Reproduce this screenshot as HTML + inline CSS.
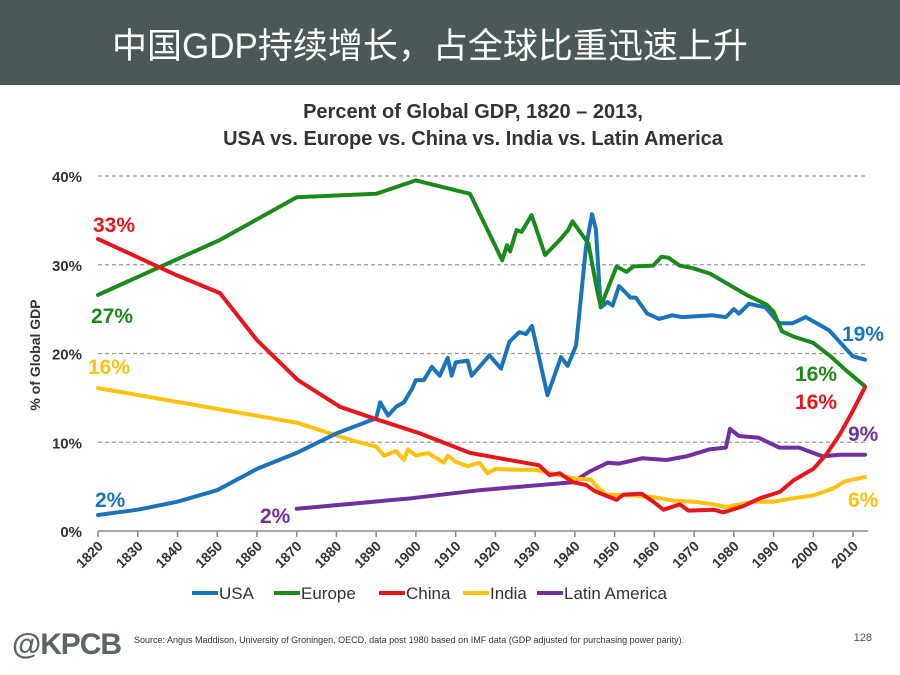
<!DOCTYPE html>
<html><head><meta charset="utf-8"><style>
body{margin:0;width:900px;height:675px;background:#fff;overflow:hidden;position:relative;font-family:"Liberation Sans","Noto Sans CJK SC",sans-serif}
#hdr{position:absolute;left:0;top:0;width:900px;height:85px;background:#4b5857}
#hdr div{position:absolute;left:112px;top:18px;color:#fff;font-size:35px;font-family:"Liberation Sans","Noto Sans CJK SC",sans-serif;white-space:nowrap}
svg{position:absolute;left:0;top:0}
</style></head><body>
<div id="hdr"><div>中国GDP持续增长，占全球比重迅速上升</div></div>
<svg id="c" width="900" height="675"></svg>
<script>
const usaYears=[1820,1830,1840,1850,1860,1870,1880,1890,1891,1893,1895,1897,1899,1900,1902,1904,1906,1908,1909,1910,1913,1914,1916,1918.5,1921.4,1923.5,1926,1927.7,1929.2,1933.1,1936.5,1938.2,1940.3,1942.8,1944.3,1945.3,1946.5,1948.2,1949.5,1951.1,1954,1955.3,1958.2,1961.2,1964.5,1967,1974.6,1978,1980,1981.3,1983.8,1988,1991.4,1994.7,1998.1,2004,2009.9,2013];
const usaVals=[1.8,2.4,3.3,4.6,7,8.8,11,12.7,14.5,13,14,14.5,16,17,17,18.5,17.5,19.5,17.5,19,19.2,17.5,18.5,19.8,18.3,21.3,22.4,22.2,23.1,15.3,19.6,18.6,20.9,32,35.7,34,25.2,25.8,25.4,27.6,26.3,26.3,24.5,23.9,24.3,24.1,24.3,24.1,25,24.5,25.6,25.2,23.4,23.4,24.1,22.6,19.7,19.3];
const eurYears=[1820,1850.7,1870,1890,1900,1913.6,1921.7,1922.9,1923.7,1925.3,1926.6,1929.1,1932.5,1936.2,1938.3,1939.4,1941.3,1943.4,1945.4,1946.5,1950.5,1953,1954.7,1959.7,1961.8,1963.5,1966.4,1969.8,1974,1979,1983.2,1988.3,1990,1992.1,1995,2000,2004.3,2008.5,2013];
const eurVals=[26.6,32.8,37.6,38,39.5,38,30.5,32.2,31.5,33.9,33.7,35.6,31.1,32.8,33.9,34.9,33.7,32.4,27.6,25.3,29.8,29.2,29.8,29.9,30.9,30.8,29.9,29.6,29,27.7,26.6,25.5,24.7,22.5,21.9,21.2,19.7,18,16.3];
const chnYears=[1820,1839.9,1850.7,1860,1870.3,1880.9,1889.3,1901,1913.6,1921,1931,1933.6,1936.2,1939.5,1942.8,1945,1950.5,1952.2,1956.8,1959.7,1962.3,1966.4,1968.6,1974.9,1977.4,1982.4,1986.6,1991.6,1995,2000,2003.4,2006.7,2010,2013];
const chnVals=[32.9,28.8,26.8,21.5,17,14,12.7,11,8.8,8.2,7.4,6.3,6.5,5.5,5.2,4.5,3.5,4.1,4.2,3.3,2.4,3.0,2.3,2.4,2.1,2.8,3.7,4.4,5.7,7.0,8.7,10.9,13.6,16.2];
const indYears=[1820,1870,1884,1890,1892,1895,1897,1898,1900,1903,1907,1908,1910,1913,1916,1918,1920,1925,1930,1935,1940,1944,1946,1948,1955,1960,1965,1970,1975,1978,1980,1985,1990,1995,2000,2005,2008,2013];
const indVals=[16.1,12.2,10.2,9.5,8.5,9.0,8.0,9.2,8.5,8.8,7.7,8.5,7.8,7.3,7.7,6.5,7.0,6.9,6.9,6.4,5.9,5.8,4.8,4.1,4.0,3.8,3.4,3.3,3.0,2.7,2.9,3.3,3.3,3.7,4.0,4.8,5.6,6.1];
const latYears=[1870,1899,1916,1939.5,1943.7,1948.3,1951.1,1957,1963,1968,1973.8,1978,1979,1981.3,1986.3,1991.4,1996.4,2002.3,2006.5,2013];
const latVals=[2.5,3.7,4.6,5.5,6.7,7.7,7.6,8.2,8.0,8.4,9.2,9.4,11.5,10.7,10.5,9.4,9.4,8.4,8.6,8.6];
const yTicks=[0,10,20,30,40];
const xTicks=[1820,1830,1840,1850,1860,1870,1880,1890,1900,1910,1920,1930,1940,1950,1960,1970,1980,1990,2000,2010];

const NS='http://www.w3.org/2000/svg';
const svg=document.getElementById('c');
const X=y=>98+(y-1820)*3.974;
const Y=v=>531-v*8.875;
function mk(tag,attrs,parent){const e=document.createElementNS(NS,tag);for(const k in attrs)e.setAttribute(k,attrs[k]);(parent||svg).appendChild(e);return e;}
function txt(s,x,y,size,color,anchor,extra){const t=mk('text',Object.assign({x:x,y:y,'font-size':size,fill:color,'text-anchor':anchor||'start','font-family':'Liberation Sans, sans-serif','font-weight':'bold'},extra||{}));t.textContent=s;return t;}

let t=txt('Percent of Global GDP, 1820 – 2013,',473,118,20,'#333','middle');

t=txt('USA vs. Europe vs. China vs. India vs. Latin America',473,145,20,'#333','middle');


yTicks.forEach(v=>{
  if(v>0){const g=mk('line',{x1:98,x2:868,y1:Y(v),y2:Y(v),stroke:'#999','stroke-width':1.2,'stroke-dasharray':'4,3'});
  }
  const l=txt(v+'%',82,Y(v)+6,15,'#333','end');
  
});
const ax=mk('line',{x1:98,x2:868,y1:531,y2:531,stroke:'#888','stroke-width':1.5});

xTicks.forEach(yr=>{
  const tk=mk('line',{x1:X(yr),x2:X(yr),y1:531,y2:537,stroke:'#888','stroke-width':1.5});
  
  const l=txt(String(yr),X(yr)+6,547,14,'#333','end',{transform:'rotate(-45 '+(X(yr)+6)+' 547)'});
  
});
const yl=txt('% of Global GDP',40,355,14,'#333','middle',{transform:'rotate(-90 40 355)'});


function series(xs,vs,color,name){
  const d=xs.map((x,i)=>(i?'L':'M')+X(x).toFixed(1)+','+Y(vs[i]).toFixed(1)).join(' ');
  const p=mk('path',{d:d,fill:'none',stroke:color,'stroke-width':4,'stroke-linejoin':'round','stroke-linecap':'round'});
  
}
const C={usa:'#1a74bc',eur:'#1a8a1a',chn:'#e8161c',ind:'#fdc10e',lat:'#7030a0'};
series(latYears,latVals,C.lat,'latin-america-line');
series(indYears,indVals,C.ind,'india-line');
series(usaYears,usaVals,C.usa,'usa-line');
series(eurYears,eurVals,C.eur,'europe-line');
series(chnYears,chnVals,C.chn,'china-line');

[['33%',93,232,C.chn],['27%',91,323,C.eur],['16%',88,374,C.ind],['2%',95,507,C.usa],['2%',260,523,C.lat],
 ['19%',842,341,C.usa],['16%',795,381,C.eur],['16%',795,409,C.chn],['9%',848,441,C.lat],['6%',848,507,C.ind]].forEach(a=>{
  const l=txt(a[0],a[1],a[2],21,a[3],'start');
  
});

[['USA',C.usa,192],['Europe',C.eur,274],['China',C.chn,379],['India',C.ind,463],['Latin America',C.lat,537]].forEach(a=>{
  const g=mk('g',{});
  
  mk('line',{x1:a[2],x2:a[2]+26,y1:593,y2:593,stroke:a[1],'stroke-width':4},g);
  const l=txt(a[0],a[2]+27,599,17,'#333','start',{'font-weight':'normal'});g.appendChild(l);
});

t=txt('@KPCB',12,654,30,'#5a6564','start',{'textLength':110});

t=txt('Source: Angus Maddison, University of Groningen, OECD, data post 1980 based on IMF data (GDP adjusted for purchasing power parity).',134,643,9,'#333','start',{'font-weight':'normal'});

t=txt('128',872,641,11,'#555','end',{'font-weight':'normal'});

</script>
</body></html>
